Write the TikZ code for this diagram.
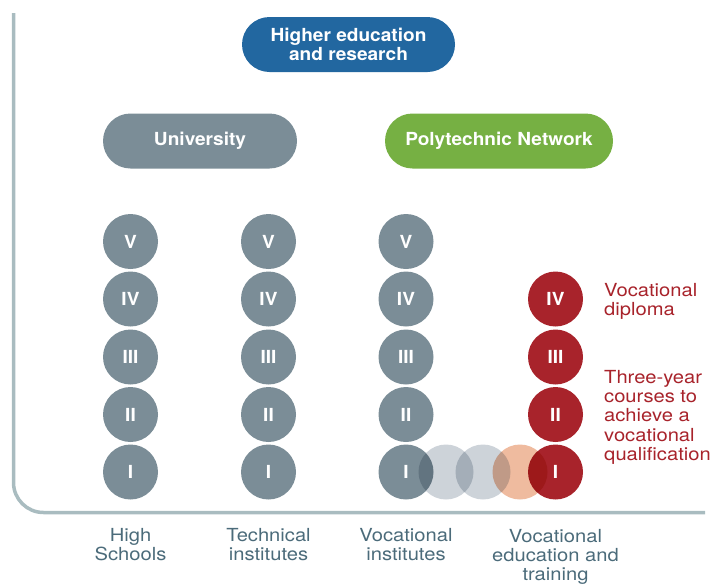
\documentclass[tikz,border=0pt]{standalone}
\usepackage{fontspec}
\setmainfont{TeX Gyre Heros}
\newfontfamily\widefont[FakeStretch=1.12]{TeX Gyre Heros}
\newfontfamily\boldwide[FakeStretch=1.06,FakeBold=0]{TeX Gyre Heros Bold}
\begin{document}
\begin{tikzpicture}[x=1pt,y=-1pt,
  dot/.style={circle,minimum size=55pt,inner sep=0pt},
  lvl/.style={dot,fill=cgray,text=white,font=\fontsize{18}{19}\boldwide},
  rlvl/.style={lvl,fill=cred},
  lvltext/.style={text=white,font=\fontsize{18}{19}\boldwide},
  pill/.style={rounded corners=27.5pt,minimum height=55pt,text=white,font=\fontsize{18}{18.5}\boldwide,align=center,inner sep=0pt},
  blabel/.style={text=ctext,font=\fontsize{18}{19}\widefont,align=center,anchor=north,inner sep=0pt},
  rlabel/.style={text=cred,font=\fontsize{18}{19.3}\widefont,align=left,anchor=north west,inner sep=0pt},
  axis/.style={draw=caxis,line width=3.5pt}]
\definecolor{cgray}{HTML}{7B8D97}
\definecolor{cred}{HTML}{A8232B}
\definecolor{cblue}{HTML}{2267A0}
\definecolor{cgreen}{HTML}{76B043}
\definecolor{clight}{HTML}{CDD3D9}
\definecolor{corange}{HTML}{EFBB9F}
\definecolor{ctext}{HTML}{4B6B7A}
\definecolor{caxis}{HTML}{A9BCC0}
\useasboundingbox (0,0) rectangle (715,584);
\coordinate (atop) at (13.5,13);
\coordinate (aend) at (705,512.5);
\draw[axis,rounded corners=30pt] (atop) |- (aend);
\node[pill,fill=cblue,minimum width=213pt] (he) at (348.5,44.5) {Higher education\\and research};
\node[pill,fill=cgray,minimum width=194pt] (uni) at (200,141) {University};
\node[pill,fill=cgreen,minimum width=228pt] (poly) at (499,141) {Polytechnic Network};
\foreach \c/\x in {a/130.5,b/268.5,c/406} {
  \node[lvl] (\c5) at (\x,241.5) {V};
  \node[lvl] (\c4) at (\x,299) {IV};
  \node[lvl] (\c3) at (\x,357) {III};
  \node[lvl] (\c2) at (\x,414.5) {II};
}
\node[lvl] (a1) at (130.5,472) {I};
\node[lvl] (b1) at (268.5,472) {I};
\node[rlvl] (d4) at (555.5,299) {IV};
\node[rlvl] (d3) at (555.5,357) {III};
\node[rlvl] (d2) at (555.5,414.5) {II};
\begin{scope}[blend group=multiply]
\node[dot,fill=cgray] (c1) at (406,472) {};
\node[dot,fill=clight] (t1) at (446,472) {};
\node[dot,fill=clight] (t2) at (483,472) {};
\node[dot,fill=corange] (t3) at (520,472) {};
\node[dot,fill=cred] (d1) at (555.5,472) {};
\end{scope}
\node[lvltext] (c1l) at (c1) {I};
\node[lvltext] (d1l) at (d1) {I};
\node[blabel] (la) at (130.5,528) {High\\Schools};
\node[blabel] (lb) at (268.5,528) {Technical\\institutes};
\node[blabel] (lc) at (406,528) {Vocational\\institutes};
\node[blabel] (ld) at (555.5,529) {Vocational\\education and\\training};
\node[rlabel] (r1) at (604,283) {Vocational\\diploma};
\node[rlabel] (r2) at (604,370) {Three-year\\courses to\\achieve a\\vocational\\qualification};
\end{tikzpicture}
\end{document}
